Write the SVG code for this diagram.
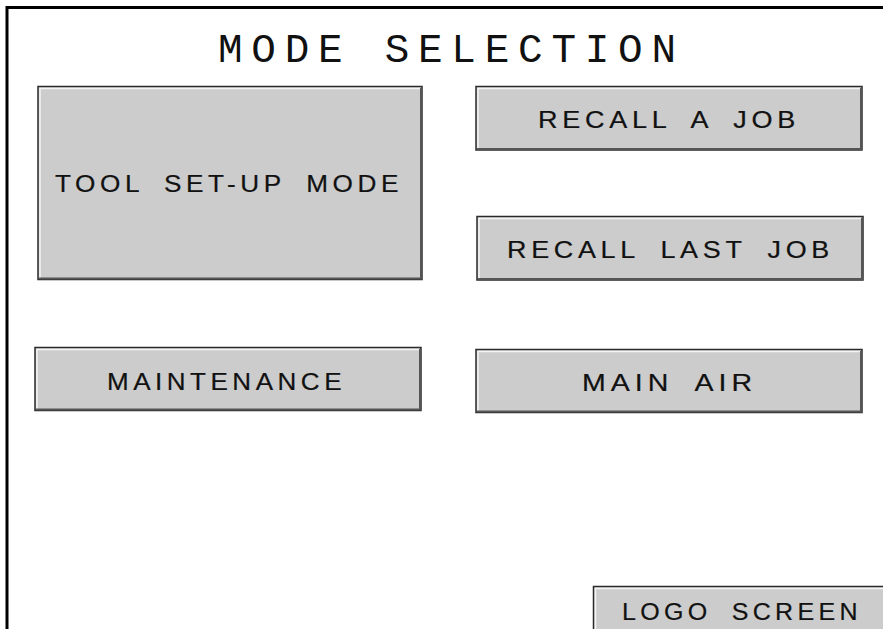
<svg xmlns="http://www.w3.org/2000/svg" width="883" height="629" viewBox="0 0 883 629">
<style>
.frame{fill:none;stroke:#000;stroke-width:3}
.btn{fill:#cccccc;stroke:#2a2a2a;stroke-width:1.5}
.hl{fill:none;stroke:#f4f4f4;stroke-width:1.5}
.sh{fill:none;stroke:#555;stroke-width:2}
.lbl{font-family:"Liberation Sans",Arial,sans-serif;font-size:23px;letter-spacing:4px;word-spacing:8px;fill:#111;stroke:#111;stroke-width:0.2}
.title{font-family:"Liberation Mono","Courier New",monospace;font-size:41px;fill:#111}
</style>
<rect x="0" y="0" width="883" height="629" fill="#ffffff"/>
<path class="frame" d="M7,640 V7.5 H895"/>
<g id="title"><text class="title" x="218" y="62" textLength="458" lengthAdjust="spacing">MODE SELECTION</text></g>
<g id="tool-setup">
<rect class="btn" x="38" y="86.5" width="384" height="193"/>
<path class="hl" d="M40,278 V88.5 H420"/>
<path class="sh" d="M39,278.5 H421 V88"/>
<text class="lbl" x="55" y="192" textLength="348" lengthAdjust="spacingAndGlyphs">TOOL SET-UP MODE</text>
</g>
<g id="recall-job">
<rect class="btn" x="476" y="86.5" width="386" height="63.5"/>
<path class="hl" d="M478,148 V88.5 H860"/>
<path class="sh" d="M477,149 H861 V88"/>
<text class="lbl" x="538" y="128" textLength="262" lengthAdjust="spacingAndGlyphs">RECALL A JOB</text>
</g>
<g id="recall-last">
<rect class="btn" x="477" y="216.5" width="386" height="63.5"/>
<path class="hl" d="M479,278 V218.5 H861"/>
<path class="sh" d="M478,279 H862 V218"/>
<text class="lbl" x="507" y="258" textLength="327" lengthAdjust="spacingAndGlyphs">RECALL LAST JOB</text>
</g>
<g id="maintenance">
<rect class="btn" x="35" y="347.5" width="386" height="63"/>
<path class="hl" d="M37,409 V349.5 H419"/>
<path class="sh" d="M36,409.5 H420 V349"/>
<text class="lbl" x="107" y="389.5" textLength="239" lengthAdjust="spacingAndGlyphs">MAINTENANCE</text>
</g>
<g id="main-air">
<rect class="btn" x="476" y="349.5" width="386" height="63"/>
<path class="hl" d="M478,411 V351.5 H860"/>
<path class="sh" d="M477,411.5 H861 V351"/>
<text class="lbl" x="582" y="391" textLength="175" lengthAdjust="spacingAndGlyphs">MAIN AIR</text>
</g>
<g id="logo-screen">
<rect class="btn" x="593.5" y="586.5" width="300" height="60"/>
<path class="hl" d="M595.5,640 V588.5 H893"/>
<text class="lbl" x="622" y="619.5" textLength="240" lengthAdjust="spacingAndGlyphs">LOGO SCREEN</text>
</g>
</svg>
